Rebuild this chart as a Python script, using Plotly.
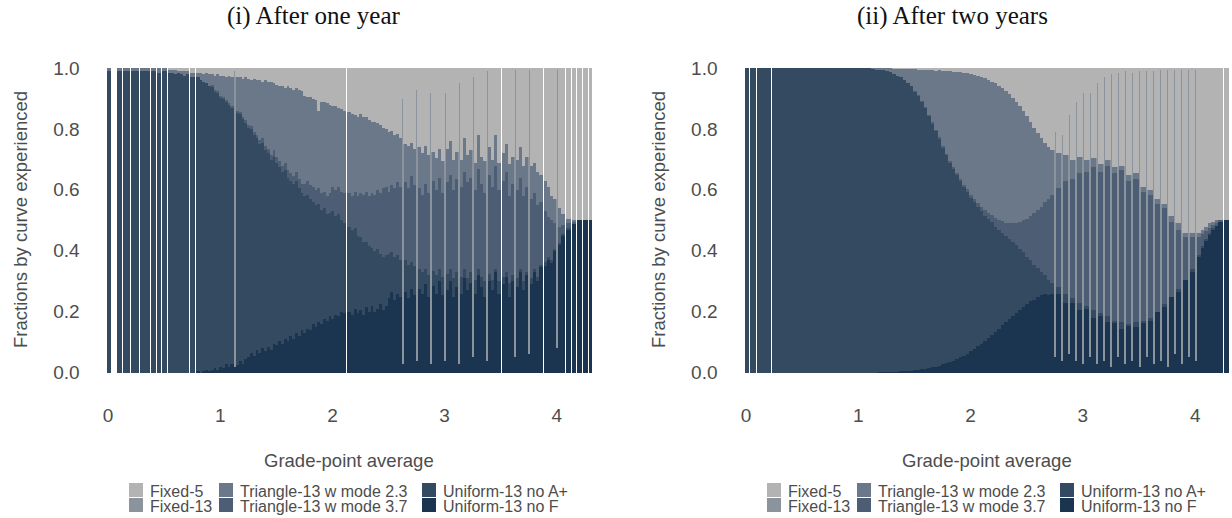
import plotly.graph_objects as go

N = None  # GPA value not observed in the simulation

# Curves, bottom of the stack first
CURVES = ["Uniform-13 no F", "Uniform-13 no A+", "Triangle-13 w mode 3.7",
          "Triangle-13 w mode 2.3", "Fixed-13", "Fixed-5"]
COLORS = {
    "Fixed-5": "#b3b3b3",
    "Fixed-13": "#8b939c",
    "Triangle-13 w mode 2.3": "#6b7889",
    "Triangle-13 w mode 3.7": "#4c5d74",
    "Uniform-13 no A+": "#344a61",
    "Uniform-13 no F": "#1b3551",
}

X_TICKS = [0, 1, 2, 3, 4]
Y_TICKS = [0.0, 0.2, 0.4, 0.6, 0.8, 1.0]
Y_TICK_TEXT = ["0.0", "0.2", "0.4", "0.6", "0.8", "1.0"]

# ---------------------------------------------------------------------------
# (i) After one year: GPA bins every 0.025 (0 .. 4.3), share of students in %
# ---------------------------------------------------------------------------
GPA_STEP_ONE = 0.025
gpa_one = [round(k * GPA_STEP_ONE, 4) for k in range(173)]

one_uniform_no_f = [
    0, N, N, N, 0, N, 0, 0, N, 0,
    0, N, 0, 0, 0, N, 0, N, 0, N,
    0, N, 0, 0, 0, 0, 0, 0, 0, N,
    0, N, 0.5, 0, 0.5, 1, 0.5, 1, 1.5, 1,
    2, 1.5, 3, 2, 3, 2, 2.5, 4, 3, 4.5,
    5, 6.5, 5.5, 7.5, 6.5, 8, 7, 8.5, 7.5, 9.5,
    9, 10.5, 9.5, 11, 10.5, 12, 11, 13, 12, 14,
    13, 14.5, 14, 16, 15, 16.5, 16, 17.5, 17, 18.5,
    17.5, 19, 18.5, 20, 19.5, N, 20, 19, 21, 19.5,
    20.5, 19, 21.5, 20, 22, 20, 21, 22.5, 20.5, 22,
    24.5, 26.5, 24, 26, 25, 3, 26.5, 24.5, 27.5, 25.5,
    4, 27.5, 26, 29, 25, 3, 28.5, 26, 30, 25.5,
    4, 27, 30, 25, 28, 3, 26, 31, 27, 29.5,
    5, 26, 32, 28, 25, 4, 30, 27, 33, 26,
    N, 29, 31.5, 25, 30, 5, 28, 33, 27, 32,
    6, 29, 33, 30, 35, N, 35, 37, 36, 40,
    8, 42, 45, N, 47, N, 49, N, 50, N,
    50, N, 50,
]
one_uniform_no_aplus = [
    99, N, N, N, 99, N, 99, 99, N, 99,
    99, N, 99, 99, 99, N, 99, N, 98.5, N,
    99, N, 98.5, 98.5, 98, 98.5, 98, 97.5, 98, N,
    97, N, 96.5, 96, 95, 94, 93.5, 93, 91, 91,
    88.5, 88.5, 86, 86, 84, 0, 83, 81, 80.5, 77.5,
    75.5, 73.5, 72.5, 69.5, 68.5, 67.5, 66, 63.5, 62.5, 61.5,
    60, 57, 56.5, 55.5, 53.5, 51, 51, 50, 48.5, 45,
    45, 44, 43, 40, 40, 39, 37.5, 36.5, 35, 34,
    35.5, 32.5, 33.5, 30, 29.5, N, 28, 28, 26.5, 25.5,
    24, 24, 21.5, 21.5, 19, 20, 19.5, 16.5, 17.5, 16.5,
    14.5, 13, 14, 12.5, 12, 0, 10.5, 11, 9, 9.5,
    0, 6.5, 7, 5, 7, 0, 5, 6, 4, 6,
    0, 5.5, 4, 6, 5, 0, 5.5, 3, 4, 3.5,
    0, 4.5, 2, 3.5, 5, 0, 2.5, 3.5, 1, 4,
    N, 2.5, 1.5, 4.5, 2, 0, 3, 1, 3, 1,
    0, 2, 1, 1.5, 0.5, N, 1.5, 1, 1, 0.5,
    0, 0.5, 0.5, N, 0.5, N, 0, N, 0, N,
    0, N, 0,
]
one_triangle_37 = [
    0, N, N, N, 0, N, 0, 0, N, 0,
    0, N, 0, 0, 0, N, 0, N, 0, N,
    0, N, 0, 0, 0, 0, 0, 0, 0, N,
    0, N, 0, 0, 0, 0, 0, 0.5, 0.5, 0.5,
    0.5, 0.5, 0.5, 0.5, 0.5, 0, 0.5, 0.5, 0.5, 1,
    1, 1, 1, 1, 1.5, 1.5, 1.5, 1.5, 1.5, 2,
    2, 2, 2, 2.5, 2.5, 2.5, 2.5, 3, 3, 3,
    4, 4.5, 4.5, 5, 5, 5, 5.5, 5.5, 6, 6.5,
    8, 8.5, 9, 9.5, 10, N, 11, 11, 12, 13,
    14.5, 15.5, 16.5, 16.5, 18, 18.5, 19.5, 20, 22.5, 22.5,
    20.5, 22, 22.5, 24, 24, 0, 25.5, 25, 28, 26.5,
    0, 26.5, 25.5, 28, 27, 0, 29.5, 28, 30, 27.5,
    0, 30, 31, 29, 30.5, 0, 29.5, 32, 31.5, 31,
    0, 29.5, 33, 30.5, 29, 0, 32.5, 30.5, 34, 30,
    N, 31.5, 33, 28.5, 30, 0, 29, 30, 28, 28,
    0, 26, 25, 23.5, 20.5, N, 16.5, 13, 13, 8.5,
    0, 5.5, 3, N, 1.5, N, 0.5, N, 0, N,
    0, N, 0,
]
one_triangle_23 = [
    1, N, N, N, 1, N, 1, 1, N, 1,
    1, N, 1, 1, 1, N, 1, N, 1.5, N,
    1, N, 1, 1, 1.5, 0.5, 1, 1.5, 1, N,
    1.5, N, 1.5, 2.5, 2.5, 3.5, 4, 3.5, 4.5, 5.5,
    6.5, 7, 7.5, 9, 9.5, 0, 11, 11.5, 12.5, 14,
    15, 15, 17.5, 18, 19.5, 18.5, 21.5, 22, 24, 22,
    23.5, 24.5, 26, 24.5, 27.5, 28, 28.5, 27.5, 29.5, 30.5,
    29, 27.5, 29, 29, 29.5, 25.5, 30, 29.5, 30.5, 29,
    26.5, 27.5, 26, 27, 27, N, 26.5, 27, 25, 26,
    26, 25.5, 24.5, 25, 23.5, 24, 22, 22.5, 20, 19,
    19.5, 18, 17.5, 16, 16, 0, 12.5, 14, 11, 12,
    0, 13.5, 13.5, 12.5, 12.5, 0, 9.5, 10.5, 9.5, 10.5,
    0, 11, 11, 10, 9, 0, 9, 11, 9, 9,
    0, 9, 11, 9, 10.5, 0, 9, 9, 10, 9,
    N, 9, 9, 10.5, 9, 0, 10, 10, 10, 10,
    0, 11, 10, 11, 9, N, 10, 10, 8, 8,
    0, 6, 3.5, N, 1.5, N, 0.5, N, 0, N,
    0, N, 0,
]
one_fixed_13 = [
    0, N, N, N, 0, N, 0, 0, N, 0,
    0, N, 0, 0, 0, N, 0, N, 0, N,
    0, N, 0, 0, 0, 0, 0, 0, 0, N,
    0, N, 0, 0, 0, 0, 0, 0, 0, 0,
    0, 0, 0, 0, 0, 97, 0, 0, 0, 0,
    0, 0, 0, 0, 0, 0, 0, 0, 0, 0,
    0, 0, 0, 0, 0, 0, 0, 0, 0, 0,
    0, 0, 0, 0, 0, 0, 0, 0, 0, 0,
    0, 0, 0, 0, 0, N, 0, 0, 0, 0,
    0, 0, 0, 0, 0, 0, 0, 0, 0, 0,
    0, 0, 0, 0, 0, 87, 0, 0, 0, 0,
    89, 0, 0, 0, 0, 89, 0, 0, 0, 0,
    88, 0, 0, 0, 0, 92, 0, 0, 0, 0,
    92, 0, 0, 0, 0, 95, 0, 0, 0, 0,
    N, 0, 0, 0, 0, 94.5, 0, 0, 0, 0,
    93.5, 0, 0, 0, 0, N, 0, 0, 0, 0,
    91.5, 0, 0, N, 0, N, 0, N, 0, N,
    0, N, 0,
]
one_fixed_5 = [
    0, N, N, N, 0, N, 0, 0, N, 0,
    0, N, 0, 0, 0, N, 0, N, 0, N,
    0, N, 0.5, 0.5, 0.5, 1, 1, 1, 1, N,
    1.5, N, 1.5, 1.5, 2, 1.5, 2, 2, 2.5, 2,
    2.5, 2.5, 3, 2.5, 3, 1, 3, 3, 3.5, 3,
    3.5, 4, 3.5, 4, 4, 4.5, 4, 4.5, 4.5, 5,
    5.5, 6, 6, 6.5, 6, 6.5, 7, 6.5, 7, 7.5,
    9, 9.5, 9.5, 10, 10.5, 14, 11, 11, 11.5, 12,
    12.5, 12.5, 13, 13.5, 14, N, 14.5, 15, 15.5, 16,
    15, 16, 16, 17, 17.5, 17.5, 18, 18.5, 19.5, 20,
    21, 20.5, 22, 21.5, 23, 10, 25, 25.5, 24.5, 26.5,
    7, 26, 28, 25.5, 28.5, 8, 27.5, 29.5, 26.5, 30.5,
    8, 26.5, 24, 30, 27.5, 5, 30, 23, 28.5, 27,
    3, 31, 22, 29, 30.5, 1, 26, 30, 22, 31,
    N, 28, 25, 31.5, 29, 0.5, 30, 26, 32, 29,
    0.5, 32, 31, 34, 35, N, 37, 39, 42, 43,
    0.5, 46, 48, N, 49.5, N, 50, N, 50, N,
    50, N, 50,
]

# ---------------------------------------------------------------------------
# (ii) After two years: GPA bins every 1/32 (0 .. 4.28), share of students in %
# ---------------------------------------------------------------------------
GPA_STEP_TWO = 0.03125
gpa_two = [round(k * GPA_STEP_TWO, 5) for k in range(138)]

two_uniform_no_f = [
    0, N, 0, N, 0, 0, 0, N, 0, 0,
    0, 0, 0, 0, 0, 0, 0, 0, 0, 0,
    0, 0, 0, 0, 0, 0, 0, 0, 0, 0,
    0, 0, 0, 0, 0, 0, 0, 0, 0.1, 0.1,
    0.2, 0.2, 0.3, 0.3, 0.4, 0.5, 0.6, 0.7, 0.8, 1,
    1.1, 1.3, 1.5, 1.8, 2, 2.3, 2.7, 3.1, 3.5, 4,
    4.5, 5, 5.6, 6.2, 7, 7.8, 8.6, 9.5, 10.5, 11.5,
    12.5, 13.5, 14.5, 15.5, 16.5, 17.5, 18.5, 19.5, 20.5, 21.5,
    22.5, 23.5, 24, 25, 25.5, 26, 25.5, 26, 5, 26,
    4, 23, 6, 23, 4, 20.5, 3, 21, 5, 18,
    3, 18.5, 4, 16.5, 2, 16.5, 5, 14.5, 3, 15.5,
    4, 15, 2, 16.5, 5, 17, 3, 20, 4, 21.5,
    2, 25, 6, 26.5, 3, 30.5, 5, 33, 4, 38,
    41, 43.5, 45.5, 47, 48.5, 49.5, N, 50,
]
two_uniform_no_aplus = [
    100, N, 100, N, 100, 100, 100, N, 100, 100,
    100, 100, 100, 100, 100, 100, 100, 100, 100, 100,
    100, 100, 100, 100, 100, 100, 100, 100, 100, 100,
    100, 100, 100, 100, 100, 100, 99.8, 99.7, 99.4, 99.2,
    98.8, 98.4, 97.9, 97.3, 96.6, 95.7, 94.6, 93.3, 91.7, 90,
    87.9, 85.7, 83, 80.2, 77.5, 74.7, 71.3, 68.4, 65.5, 63,
    60.5, 58, 55.4, 53.3, 50.5, 48.2, 45.9, 43.5, 41, 39,
    37, 34.5, 32.5, 30.5, 28.5, 26.5, 24.5, 22.5, 20, 18,
    15.5, 13.5, 11.5, 9.5, 7.5, 6, 5, 3.5, 0, 2,
    0, 3, 0, 1.5, 0, 2.5, 0, 1, 0, 2.5,
    0, 1, 0, 2, 0, 0.5, 0, 2, 0, 0.5,
    0, 1.5, 0, 0.5, 0, 1, 0, 0, 0, 1,
    0, 0, 0, 1, 0, 0, 0, 1, 0, 0.5,
    0.5, 0.5, 0.5, 0.5, 0, 0, N, 0,
]
two_triangle_37 = [
    0, N, 0, N, 0, 0, 0, N, 0, 0,
    0, 0, 0, 0, 0, 0, 0, 0, 0, 0,
    0, 0, 0, 0, 0, 0, 0, 0, 0, 0,
    0, 0, 0, 0, 0, 0, 0, 0, 0, 0,
    0, 0, 0, 0, 0, 0, 0, 0, 0.1, 0.1,
    0.1, 0.2, 0.2, 0.2, 0.3, 0.3, 0.3, 0.4, 0.5, 0.5,
    0.6, 0.7, 0.8, 0.9, 1, 1.2, 1.3, 1.5, 1.8, 2,
    2.3, 2.8, 3.2, 3.7, 4.3, 5, 6, 7.3, 9, 10.5,
    12.5, 14.5, 17, 19, 21.5, 24, 26.5, 29, 0, 32.5,
    0, 37, 0, 39, 0, 42.5, 0, 44, 0, 47,
    0, 46.5, 0, 49.5, 0, 48.5, 0, 50, 0, 47,
    0, 47, 0, 42.5, 0, 40.5, 0, 35.5, 0, 31.5,
    0, 24.5, 0, 19.5, 0, 14, 0, 10.5, 0, 6,
    4, 2.5, 1.5, 1, 0.5, 0.5, N, 0,
]
two_triangle_23 = [
    0, N, 0, N, 0, 0, 0, N, 0, 0,
    0, 0, 0, 0, 0, 0, 0, 0, 0, 0,
    0, 0, 0, 0, 0, 0, 0, 0, 0, 0,
    0, 0, 0, 0, 0, 0, 0.2, 0.3, 0.5, 0.7,
    1, 1.4, 1.7, 2.3, 2.9, 3.7, 4.6, 5.8, 7.2, 8.6,
    10.6, 12.4, 14.8, 17.3, 19.6, 22, 24.9, 27.2, 29.5, 31.4,
    33.2, 34.9, 36.7, 37.9, 39.5, 40.6, 41.7, 42.6, 43.4, 43.7,
    43.8, 44.2, 44.1, 43.8, 43.2, 42.5, 41.3, 39.7, 38, 36,
    33.8, 31, 28, 25.3, 22.5, 19.5, 17, 14.5, 0, 11.5,
    0, 8.5, 0, 6.5, 0, 5.5, 0, 4, 0, 3,
    0, 2.5, 0, 2, 0, 2, 0, 1.5, 0, 2,
    0, 2, 0, 1.5, 0, 1.5, 0, 1.5, 0, 1.5,
    0, 2, 0, 2, 0, 1.5, 0, 1.5, 0, 1.5,
    1.5, 1.5, 1.5, 1, 1, 0, N, 0,
]
two_fixed_13 = [
    0, N, 0, N, 0, 0, 0, N, 0, 0,
    0, 0, 0, 0, 0, 0, 0, 0, 0, 0,
    0, 0, 0, 0, 0, 0, 0, 0, 0, 0,
    0, 0, 0, 0, 0, 0, 0, 0, 0, 0,
    0, 0, 0, 0, 0, 0, 0, 0, 0, 0,
    0, 0, 0, 0, 0, 0, 0, 0, 0, 0,
    0, 0, 0, 0, 0, 0, 0, 0, 0, 0,
    0, 0, 0, 0, 0, 0, 0, 0, 0, 0,
    0, 0, 0, 0, 0, 0, 0, 0, 74, 0,
    74, 0, 78.5, 0, 85, 0, 89, 0, 87, 0,
    92, 0, 93, 0, 96, 0, 93.5, 0, 96, 0,
    94.5, 0, 97, 0, 94, 0, 96, 0, 95.5, 0,
    97.5, 0, 93.5, 0, 96.5, 0, 94.5, 0, 95.5, 0,
    0, 0, 0, 0, 0, 0, N, 0,
]
two_fixed_5 = [
    0, N, 0, N, 0, 0, 0, N, 0, 0,
    0, 0, 0, 0, 0, 0, 0, 0, 0, 0,
    0, 0, 0, 0, 0, 0, 0, 0, 0, 0,
    0, 0, 0, 0, 0, 0, 0, 0, 0, 0,
    0, 0, 0.1, 0.1, 0.1, 0.1, 0.2, 0.2, 0.2, 0.3,
    0.3, 0.4, 0.5, 0.5, 0.6, 0.7, 0.8, 0.9, 1, 1.1,
    1.2, 1.4, 1.5, 1.7, 2, 2.2, 2.5, 2.9, 3.3, 3.8,
    4.4, 5, 5.7, 6.5, 7.5, 8.5, 9.7, 11, 12.5, 14,
    15.7, 17.5, 19.5, 21.2, 23, 24.5, 26, 27, 21, 28,
    22, 28.5, 15.5, 30, 11, 29, 8, 30, 8, 29.5,
    5, 31.5, 3, 30, 2, 32.5, 1.5, 32, 1, 35,
    1.5, 34.5, 1, 39, 1, 40, 1, 43, 0.5, 44.5,
    0.5, 48.5, 0.5, 51, 0.5, 54, 0.5, 54, 0.5, 54,
    53, 52, 51, 50.5, 50, 50, N, 50,
]

panel_one = [one_uniform_no_f, one_uniform_no_aplus, one_triangle_37,
             one_triangle_23, one_fixed_13, one_fixed_5]
panel_two = [two_uniform_no_f, two_uniform_no_aplus, two_triangle_37,
             two_triangle_23, two_fixed_13, two_fixed_5]
for grid, series in ((gpa_one, panel_one), (gpa_two, panel_two)):
    for s in series:
        assert len(s) == len(grid), (len(s), len(grid))

# ---------------------------------------------------------------------------
W, H = 1232, 518
TEXT_GREY = "#4d4d4d"
SANS = "Liberation Sans, Arial, sans-serif"
SERIF = "Liberation Serif, Times New Roman, serif"
HAIR = 0.0045  # half width of a hairline column (GPA units)


def px_x(p):
    return p / W


def px_y(p):
    return 1 - p / H


def bar_geometry(gpa, present, narrow, step):
    """Left edge offset and width of every column; Fixed-13-only columns
    are drawn as hairlines and unobserved GPA values as thin white gaps."""
    n = len(gpa)
    widths, offsets = [None] * n, [None] * n
    for i in range(n):
        if not present[i]:
            continue
        x = gpa[i]
        if narrow[i]:
            lo, hi = x - HAIR, x + HAIR
        else:
            lo, hi = x - step / 2, x + step / 2
            if i > 0 and (not present[i - 1] or narrow[i - 1]):
                lo = gpa[i - 1] + HAIR
            if i < n - 1 and (not present[i + 1] or narrow[i + 1]):
                hi = gpa[i + 1] - HAIR
        widths[i] = hi - lo
        offsets[i] = lo - x
    return widths, offsets


fig = go.Figure()


def add_panel(gpa, step, series, xa, ya):
    present = [v is not None for v in series[0]]
    narrow = [(v or 0) > 0 for v in series[4]]
    widths, offsets = bar_geometry(gpa, present, narrow, step)
    idx = [i for i in range(len(gpa)) if present[i]]
    for name, vals in zip(CURVES, series):
        fig.add_trace(go.Bar(
            x=[gpa[i] for i in idx],
            y=[vals[i] / 100 for i in idx],
            width=[widths[i] for i in idx],
            offset=[offsets[i] for i in idx],
            marker=dict(color=COLORS[name], line=dict(width=0)),
            name=name, showlegend=False, xaxis=xa, yaxis=ya,
            hovertemplate="GPA %{x:.3f}<br>" + name + ": %{y:.3f}<extra></extra>",
        ))


add_panel(gpa_one, GPA_STEP_ONE, panel_one, "x", "y")
add_panel(gpa_two, GPA_STEP_TWO, panel_two, "x2", "y2")

tick_font = dict(family=SANS, size=19, color=TEXT_GREY)
x_common = dict(tickvals=X_TICKS, ticktext=[str(t) for t in X_TICKS],
                showgrid=False, zeroline=False, showline=False, ticks="",
                tickfont=tick_font, ticklabelstandoff=14, fixedrange=True)
y_common = dict(range=[-0.05, 1.05], tickvals=Y_TICKS, ticktext=Y_TICK_TEXT,
                showgrid=False, zeroline=False, showline=False, ticks="",
                tickfont=tick_font, ticklabelstandoff=5, fixedrange=True,
                domain=[px_y(387.7), px_y(52.8)])

fig.update_layout(
    width=W, height=H,
    margin=dict(l=0, r=0, t=0, b=0),
    paper_bgcolor="white", plot_bgcolor="white",
    barmode="stack", bargap=0, bargroupgap=0,
    showlegend=False,
    xaxis=dict(domain=[px_x(85.6), px_x(612.9)], range=[-0.2, 4.5],
               anchor="y", **x_common),
    yaxis=dict(anchor="x", **y_common),
    xaxis2=dict(domain=[px_x(723.5), 1.0], range=[-0.2, 4.328],
                anchor="y2", **x_common),
    yaxis2=dict(anchor="x2", **y_common),
)

annotations = []
shapes = []
PANELS = [
    dict(dx=0, title="(i) After one year", title_x=314),
    dict(dx=638, title="(ii) After two years", title_x=314),
]
LEGEND_COLUMNS = [
    (129, ["Fixed-5", "Fixed-13"]),
    (219, ["Triangle-13 w mode 2.3", "Triangle-13 w mode 3.7"]),
    (422, ["Uniform-13 no A+", "Uniform-13 no F"]),
]
ROW_TOPS = [483, 498]

for p in PANELS:
    dx = p["dx"]
    annotations.append(dict(
        text=p["title"], x=px_x(p["title_x"] + dx), y=px_y(16),
        xref="paper", yref="paper", xanchor="center", yanchor="middle",
        showarrow=False, font=dict(family=SERIF, size=25, color="#111111")))
    annotations.append(dict(
        text="Grade-point average", x=px_x(349 + dx), y=px_y(460),
        xref="paper", yref="paper", xanchor="center", yanchor="middle",
        showarrow=False, font=dict(family=SANS, size=18.5, color=TEXT_GREY)))
    annotations.append(dict(
        text="Fractions by curve experienced", x=px_x(20 + dx), y=px_y(220),
        xref="paper", yref="paper", xanchor="center", yanchor="middle",
        textangle=-90, showarrow=False,
        font=dict(family=SANS, size=18.5, color=TEXT_GREY)))
    for col_x, names in LEGEND_COLUMNS:
        for row, name in enumerate(names):
            top = ROW_TOPS[row]
            shapes.append(dict(
                type="rect", xref="paper", yref="paper",
                x0=px_x(col_x + dx), x1=px_x(col_x + dx + 14),
                y0=px_y(top + 14), y1=px_y(top),
                fillcolor=COLORS[name], line=dict(width=0)))
            annotations.append(dict(
                text=name, x=px_x(col_x + dx + 19), y=px_y(top + 8),
                xref="paper", yref="paper", xanchor="left", yanchor="middle",
                showarrow=False,
                font=dict(family=SANS, size=16, color=TEXT_GREY)))

fig.update_layout(annotations=annotations, shapes=shapes)
fig.write_html("out.html")
